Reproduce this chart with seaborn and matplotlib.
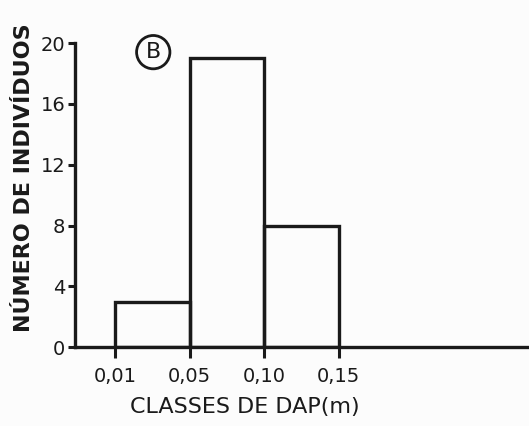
import numpy as np
import pandas as pd
import matplotlib
matplotlib.use("Agg")
import matplotlib.pyplot as plt
import seaborn as sns

# DAP classes (m) and number of individuals per class
class_edges = ["0,01", "0,05", "0,10", "0,15"]
counts = [3, 19, 8]
y_ticks = [0, 4, 8, 12, 16, 20]

sns.set_style("white")
plt.rcParams['font.family'] = ['DejaVu Sans']

df = pd.DataFrame({
    'classe': [i + 0.5 for i in range(len(counts))],
    'n': counts
})
bin_edges = list(range(len(class_edges)))

fig = plt.figure(figsize=(5.29, 4.26), dpi=100)
fig.patch.set_facecolor("#fcfcfc")
ax = fig.add_axes([0.142, 0.185, 0.858, 0.714])
ax.set_facecolor("#fcfcfc")

sns.histplot(data=df, x='classe', weights='n', bins=bin_edges,
             fill=False, color='#1a1a1a', linewidth=2.4, element='bars', ax=ax)

ax.set_xlim(-0.54, 5.56)
ax.set_ylim(0, 20)
ax.set_xticks(bin_edges)
ax.set_xticklabels(class_edges)
ax.set_yticks(y_ticks)

for s in ['top', 'right']:
    ax.spines[s].set_visible(False)
for s in ['left', 'bottom']:
    ax.spines[s].set_color('#1a1a1a')
    ax.spines[s].set_linewidth(2.4)

ax.tick_params(axis='x', direction='out', length=8, width=2.2, color='#1a1a1a',
               labelsize=14, pad=6, labelcolor='#1a1a1a')
ax.tick_params(axis='y', direction='out', length=5, width=2.2, color='#1a1a1a',
               labelsize=14, pad=2, labelcolor='#1a1a1a')
ax.tick_params(left=True, bottom=True)

ax.set_xlabel("CLASSES DE DAP(m)", fontsize=16, color='#1a1a1a')
ax.xaxis.set_label_coords(0.374, -0.165)
ax.set_ylabel("NÚMERO DE INDIVÍDUOS", fontsize=16, fontweight='bold',
              color='#1a1a1a')
ax.yaxis.set_label_coords(-0.09, 0.556)

# panel letter
ax.text(0.51, 19.4, "B", fontsize=16, ha='center', va='center', color='#1a1a1a',
        bbox=dict(boxstyle='circle,pad=0.3', fc='none', ec='#1a1a1a', lw=2))

plt.savefig("out.png", dpi=100, facecolor=fig.get_facecolor())
